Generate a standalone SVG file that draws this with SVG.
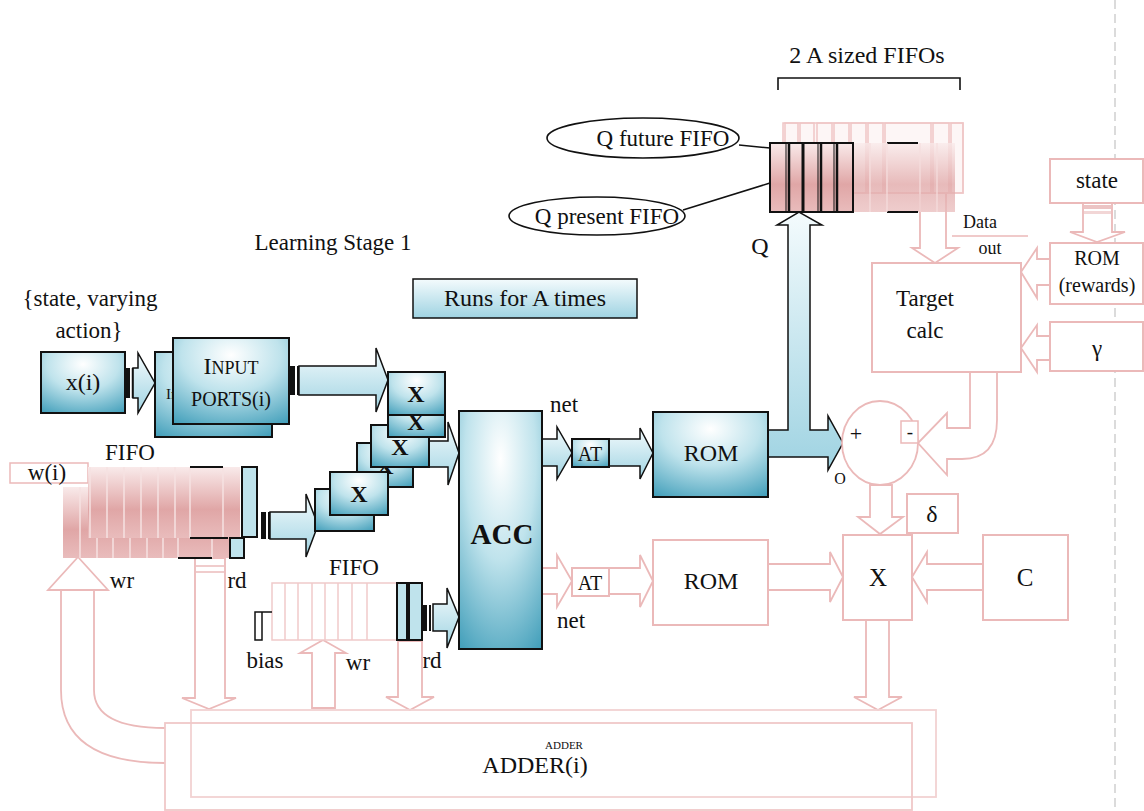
<svg xmlns="http://www.w3.org/2000/svg" width="1144" height="811" viewBox="0 0 1144 811" font-family="'Liberation Serif', 'DejaVu Serif', serif">
<defs>
<radialGradient id="blueG" cx="0.5" cy="0.2" r="0.95">
<stop offset="0" stop-color="#ffffff"/><stop offset="0.45" stop-color="#bfe3ec"/><stop offset="1" stop-color="#3d9cb8"/>
</radialGradient>
<linearGradient id="arrowG" x1="0" y1="0" x2="0" y2="1">
<stop offset="0" stop-color="#f4fbfd"/><stop offset="1" stop-color="#9fd3e2"/>
</linearGradient>
<linearGradient id="pinkG" x1="0" y1="0" x2="0" y2="1">
<stop offset="0" stop-color="#f9eaea"/><stop offset="0.6" stop-color="#e0a6a6"/><stop offset="1" stop-color="#e9bcbc"/>
</linearGradient>
<style>
text{font-family:'Liberation Serif','DejaVu Serif',serif;fill:#111;}
.t{font-size:23px;text-anchor:middle;}
.bbox{fill:url(#blueG);stroke:#111;stroke-width:2;}
.pbox{fill:#fff;stroke:#ebb9b9;stroke-width:2;}
.barr{fill:url(#arrowG);stroke:#111;stroke-width:1.5;}
.parr{fill:#fff;stroke:#ebb9b9;stroke-width:1.8;}
.pl{fill:none;stroke:#ebb9b9;stroke-width:1.8;}
.cell{fill:none;stroke:#f6e2e2;stroke-width:1.5;}
.blk{fill:#111;}
</style>
</defs>
<rect width="1144" height="811" fill="#fff"/>
<line x1="1115" y1="0" x2="1115" y2="811" stroke="#cfcfcf" stroke-width="1.5" stroke-dasharray="9 5"/>

<g id="labels">
<text class="t" x="867" y="63" style="font-size:24px">2 A sized FIFOs</text>
<path d="M778,90 L778,78 L960,78 L960,90" fill="none" stroke="#111" stroke-width="1.6"/>
<text class="t" x="333" y="250">Learning Stage 1</text>
<text class="t" x="90" y="306">{state, varying</text>
<text class="t" x="89" y="338">action}</text>
<text class="t" x="760" y="254" style="font-size:24px">Q</text>
<text class="t" x="130" y="460">FIFO</text>
<text class="t" x="354" y="575">FIFO</text>
<text class="t" x="122" y="588">wr</text>
<text class="t" x="237" y="588">rd</text>
<text class="t" x="265" y="668">bias</text>
<text class="t" x="358" y="670">wr</text>
<text class="t" x="432" y="668">rd</text>
<text class="t" x="564" y="412">net</text>
<text class="t" x="571" y="628">net</text>
<text class="t" x="840" y="484" style="font-size:16px">O</text>
<text class="t" x="980" y="228" style="font-size:18px">Data</text>
<text class="t" x="990" y="254" style="font-size:18px">out</text>
</g>

<g id="connectors">
<polygon class="barr" points="133,368 138,368 138,353 155,383 138,413 138,398 133,398"/>
<rect class="blk" x="126" y="368" width="4" height="30"/>
<line x1="132.5" y1="368" x2="132.5" y2="398" stroke="#111" stroke-width="1.5"/>
<polygon class="barr" points="299,366 376,366 376,348 388,380 376,412 376,395 299,395"/>
<rect class="blk" x="290" y="366" width="5" height="29"/><rect class="blk" x="297" y="366" width="2" height="29"/>
<polygon class="barr" points="270,512 306,512 306,494 318,525 306,557 306,539 270,539"/>
<rect class="blk" x="261" y="512" width="5" height="27"/><rect class="blk" x="268" y="512" width="2" height="27"/>
<polygon class="barr" points="429,441 448,441 448,422 459,453 448,485 448,467 429,467"/>
<polygon class="barr" points="433,604 447,604 447,588 459,617 447,648 447,631 433,631"/>
<rect class="blk" x="423" y="605" width="4" height="26"/><rect class="blk" x="429" y="605" width="2" height="26"/>
<polygon class="barr" points="542,439 557,439 557,427 572,453 557,479 557,466 542,466"/>
<polygon class="barr" points="609,439 640,439 640,428 653,453 640,479 640,466 609,466"/>
<polygon class="barr" points="768,430 788,430 788,225 777,225 799,212 822,225 810,225 810,430 828,430 828,416 843,443 828,470 828,457 768,457"/>
<polygon class="parr" points="542,568 557,568 557,555 572,581 557,607 557,594 542,594"/>
<polygon class="parr" points="609,568 640,568 640,555 653,581 640,607 640,594 609,594"/>
<polygon class="parr" points="768,564 830,564 830,552 843,577 830,602 830,590 768,590"/>
<polygon class="parr" points="983,564 927,564 927,552 912,577 927,602 927,590 983,590"/>
<polygon class="parr" points="870,485 892,485 892,517 903,517 880,534 858,517 870,517"/>
<polygon class="parr" points="920,193 946,193 946,248 958,248 935,263 912,248 920,248"/>
<polygon class="parr" points="1083,203 1112,203 1112,232 1125,232 1097,242 1070,232 1083,232"/>
<rect x="1084" y="205" width="27" height="4" fill="#ecc4c4"/><rect x="1084" y="211" width="27" height="3" fill="#f2d6d6"/>
<polygon class="parr" points="1050,259 1037,259 1037,248 1021,272 1037,298 1037,285 1050,285"/>
<polygon class="parr" points="1050,336 1037,336 1037,325 1021,348 1037,372 1037,360 1050,360"/>
<path class="parr" d="M970,372 L970,428 L947,428 L947,413 L918,443 L947,475 L947,459 L962,459 Q997,459 997,420 L997,372"/>
<line x1="952" y1="236" x2="1028" y2="236" stroke="#ebb9b9" stroke-width="1.5"/>
<polygon class="parr" points="195,558 225,558 225,698 236,698 209,709 182,698 195,698"/>
<line x1="196" y1="566" x2="224" y2="566" stroke="#f0cccc" stroke-width="2"/>
<line x1="196" y1="572" x2="224" y2="572" stroke="#f0cccc" stroke-width="2"/>
<polygon class="parr" points="312,708 335,708 335,653 346,653 323,640 300,653 312,653"/>
<polygon class="parr" points="398,641 422,641 422,697 434,697 410,710 386,697 398,697"/>
<polygon class="parr" points="866,620 889,620 889,697 902,697 878,710 854,697 866,697"/>
<path class="pl" d="M165,763 Q61,763 61,690 L61,590"/>
<path class="pl" d="M165,728 Q94,728 94,690 L94,590"/>
<polygon class="parr" points="61,590 48,590 78,557 108,590 94,590"/>
<line x1="739" y1="145" x2="770" y2="148" stroke="#111" stroke-width="1.5"/>
<line x1="683" y1="210" x2="770" y2="183" stroke="#111" stroke-width="1.5"/>
</g>

<g id="fifo-top">
<rect x="783" y="123" width="180" height="70" fill="#fdf6f6" stroke="#efc6c6" stroke-width="1.5"/>
<g fill="none" stroke="#efc6c6" stroke-width="1.5">
<rect x="785" y="123" width="13" height="70"/><rect x="800" y="123" width="14" height="70"/><rect x="817" y="123" width="15" height="70"/><rect x="834" y="123" width="15" height="70"/><rect x="851" y="123" width="15" height="70"/><rect x="868" y="123" width="15" height="70"/><rect x="885" y="123" width="46" height="70"/><rect x="933" y="123" width="16" height="70"/><rect x="951" y="123" width="12" height="70"/>
</g>
<rect x="853" y="143" width="102" height="69" fill="url(#pinkG)" opacity="0.75"/>
<rect x="770" y="143" width="83" height="69" fill="url(#pinkG)" stroke="#111" stroke-width="2"/>
<g stroke="#111">
<line x1="786" y1="143" x2="786" y2="212" stroke-width="1"/><line x1="789" y1="143" x2="789" y2="212" stroke-width="2.5"/>
<line x1="803" y1="143" x2="803" y2="212" stroke-width="3"/>
<line x1="818" y1="143" x2="818" y2="212" stroke-width="1"/><line x1="821" y1="143" x2="821" y2="212" stroke-width="2.5"/>
<line x1="834" y1="143" x2="834" y2="212" stroke-width="1"/><line x1="837" y1="143" x2="837" y2="212" stroke-width="2.5"/>
<line x1="887" y1="143" x2="918" y2="143" stroke-width="2"/><line x1="887" y1="212" x2="918" y2="212" stroke-width="2"/>
</g>
<g fill="none" stroke="#f5dede" stroke-width="1.2">
<line x1="870" y1="143" x2="870" y2="212"/><line x1="887" y1="143" x2="887" y2="212"/><line x1="920" y1="143" x2="920" y2="212"/><line x1="937" y1="143" x2="937" y2="212"/>
</g>
</g>

<g id="q-future"><ellipse cx="643" cy="138" rx="96" ry="20" fill="#fff" stroke="#111" stroke-width="1.6"/><text class="t" x="663" y="146">Q future FIFO</text></g>
<g id="q-present"><ellipse cx="597" cy="216" rx="88" ry="19" fill="#fff" stroke="#111" stroke-width="1.6"/><text class="t" x="607" y="224">Q present FIFO</text></g>

<g id="runs"><rect x="413" y="279" width="224" height="39" fill="url(#arrowG)" stroke="#111" stroke-width="1.5"/><text class="t" x="525" y="306" style="font-size:24px">Runs for A times</text></g>

<g id="xi"><rect class="bbox" x="41" y="352" width="84" height="61"/><text class="t" x="83" y="390" style="font-size:24px">x(i)</text></g>

<g id="input-ports">
<rect class="bbox" x="155" y="352" width="117" height="85"/>
<text x="166" y="399" style="font-size:15px">In</text>
<rect class="bbox" x="173" y="338" width="116" height="86"/>
<text class="t" x="231" y="374"><tspan style="font-size:24px">I</tspan><tspan style="font-size:18px">NPUT</tspan></text>
<text class="t" x="231" y="406" style="font-size:20px">PORTS(i)</text>
</g>

<g id="multipliers" style="font-weight:bold">
<rect class="bbox" x="357" y="443" width="56" height="44"/><text class="t" x="385" y="474" style="font-size:24px">X</text>
<rect class="bbox" x="315" y="489" width="59" height="42"/>
<rect class="bbox" x="330" y="472" width="58" height="43"/><text class="t" x="359" y="502" style="font-size:24px">X</text>
<rect class="bbox" x="371" y="425" width="58" height="42"/><text class="t" x="400" y="455" style="font-size:24px">X</text>
<rect class="bbox" x="388" y="395" width="57" height="42"/><text class="t" x="416" y="430" style="font-size:24px">X</text>
<rect class="bbox" x="388" y="372" width="57" height="43"/><text class="t" x="416" y="402" style="font-size:24px">X</text>
</g>

<g id="fifo-w">
<rect x="10" y="463" width="78" height="20" fill="#fff" stroke="#ebb9b9" stroke-width="1.5"/>
<text class="t" x="47" y="480">w(i)</text>
<rect x="63" y="487" width="177" height="71" fill="url(#pinkG)"/>
<rect x="88" y="467" width="152" height="71" fill="url(#pinkG)"/>
<g class="cell">
<line x1="80" y1="487" x2="80" y2="558"/><line x1="97" y1="538" x2="97" y2="558"/><line x1="113" y1="538" x2="113" y2="558"/><line x1="130" y1="538" x2="130" y2="558"/><line x1="147" y1="538" x2="147" y2="558"/><line x1="163" y1="538" x2="163" y2="558"/><line x1="178" y1="538" x2="178" y2="558"/><line x1="212" y1="538" x2="212" y2="558"/>
<line x1="90" y1="467" x2="90" y2="538"/><line x1="107" y1="467" x2="107" y2="538"/><line x1="124" y1="467" x2="124" y2="538"/><line x1="141" y1="467" x2="141" y2="538"/><line x1="158" y1="467" x2="158" y2="538"/><line x1="175" y1="467" x2="175" y2="538"/><line x1="190" y1="467" x2="190" y2="538"/><line x1="223" y1="467" x2="223" y2="538"/>
</g>
<g stroke="#111" stroke-width="2">
<line x1="190" y1="467" x2="223" y2="467"/><line x1="190" y1="538" x2="228" y2="538"/><line x1="178" y1="558" x2="212" y2="558"/>
</g>
<rect x="242" y="467" width="15" height="70" fill="#bfe3ec" stroke="#111" stroke-width="2"/>
<rect x="230" y="538" width="14" height="20" fill="#bfe3ec" stroke="#111" stroke-width="2"/>
</g>

<g id="fifo-bias">
<rect x="272" y="583" width="125" height="57" fill="#fff" stroke="#f0caca" stroke-width="1.5"/>
<g fill="none" stroke="#f0caca" stroke-width="1.5">
<line x1="285" y1="583" x2="285" y2="640"/><line x1="298" y1="583" x2="298" y2="640"/><line x1="312" y1="583" x2="312" y2="640"/><line x1="325" y1="583" x2="325" y2="640"/><line x1="338" y1="583" x2="338" y2="640"/><line x1="352" y1="583" x2="352" y2="640"/><line x1="367" y1="583" x2="367" y2="640"/>
</g>
<rect x="397" y="583" width="10" height="57" fill="#bfe3ec" stroke="#111" stroke-width="2"/>
<rect x="409" y="583" width="13" height="57" fill="#bfe3ec" stroke="#111" stroke-width="2"/>
<path d="M272,612 L255,612 L255,640 L262,640 L262,612" fill="#fff" stroke="#111" stroke-width="1.5"/>
</g>

<g id="acc"><rect class="bbox" x="459" y="411" width="83" height="238"/><text class="t" x="502" y="544" style="font-size:29px;font-weight:bold">ACC</text></g>

<g id="at1"><rect x="572" y="439" width="37" height="28" fill="url(#blueG)" stroke="#111" stroke-width="2"/><text class="t" x="590" y="461" style="font-size:20px">AT</text></g>
<g id="rom1"><rect class="bbox" x="653" y="412" width="115" height="85"/><text class="t" x="711" y="461" style="font-size:24px">ROM</text></g>
<g id="at2"><rect class="pbox" x="572" y="568" width="37" height="28"/><text class="t" x="590" y="590" style="font-size:20px">AT</text></g>
<g id="rom2"><rect class="pbox" x="653" y="540" width="115" height="85"/><text class="t" x="711" y="589" style="font-size:24px">ROM</text></g>

<g id="subtract">
<ellipse cx="880" cy="443" rx="38" ry="42" fill="#fff" stroke="#ebb9b9" stroke-width="1.8"/>
<text class="t" x="856" y="441" style="font-size:22px">+</text>
<rect x="901" y="421" width="17" height="22" fill="#fff" stroke="#ebb9b9" stroke-width="1.5"/>
<text class="t" x="910" y="438" style="font-size:19px">-</text>
</g>
<g id="delta"><rect class="pbox" x="907" y="494" width="51" height="39"/><text class="t" x="932" y="522" style="font-size:24px">δ</text></g>
<g id="mult2"><rect class="pbox" x="843" y="535" width="69" height="85"/><text class="t" x="878" y="586" style="font-size:25px">X</text></g>
<g id="c"><rect class="pbox" x="983" y="535" width="85" height="85"/><text class="t" x="1025" y="586" style="font-size:25px">C</text></g>

<g id="target"><rect class="pbox" x="872" y="263" width="149" height="109"/><text class="t" x="925" y="306">Target</text><text class="t" x="925" y="338">calc</text></g>
<g id="state"><rect class="pbox" x="1050" y="159" width="93" height="44"/><text class="t" x="1097" y="188">state</text></g>
<g id="rom-rewards"><rect class="pbox" x="1050" y="243" width="93" height="61"/><text class="t" x="1097" y="265" style="font-size:20px">ROM</text><text class="t" x="1097" y="292" style="font-size:20px">(rewards)</text></g>
<g id="gamma"><rect class="pbox" x="1050" y="322" width="93" height="49"/><text class="t" x="1097" y="356">γ</text></g>

<g id="adder">
<rect x="191" y="710" width="745" height="87" fill="none" stroke="#f2d2d2" stroke-width="1.8"/>
<rect x="165" y="723" width="747" height="87" fill="none" stroke="#f0c8c8" stroke-width="1.8"/>
<text class="t" x="535" y="773" style="font-size:24px">ADDER(i)</text>
<text class="t" x="564" y="749" style="font-size:11px">ADDER</text>
</g>
</svg>
